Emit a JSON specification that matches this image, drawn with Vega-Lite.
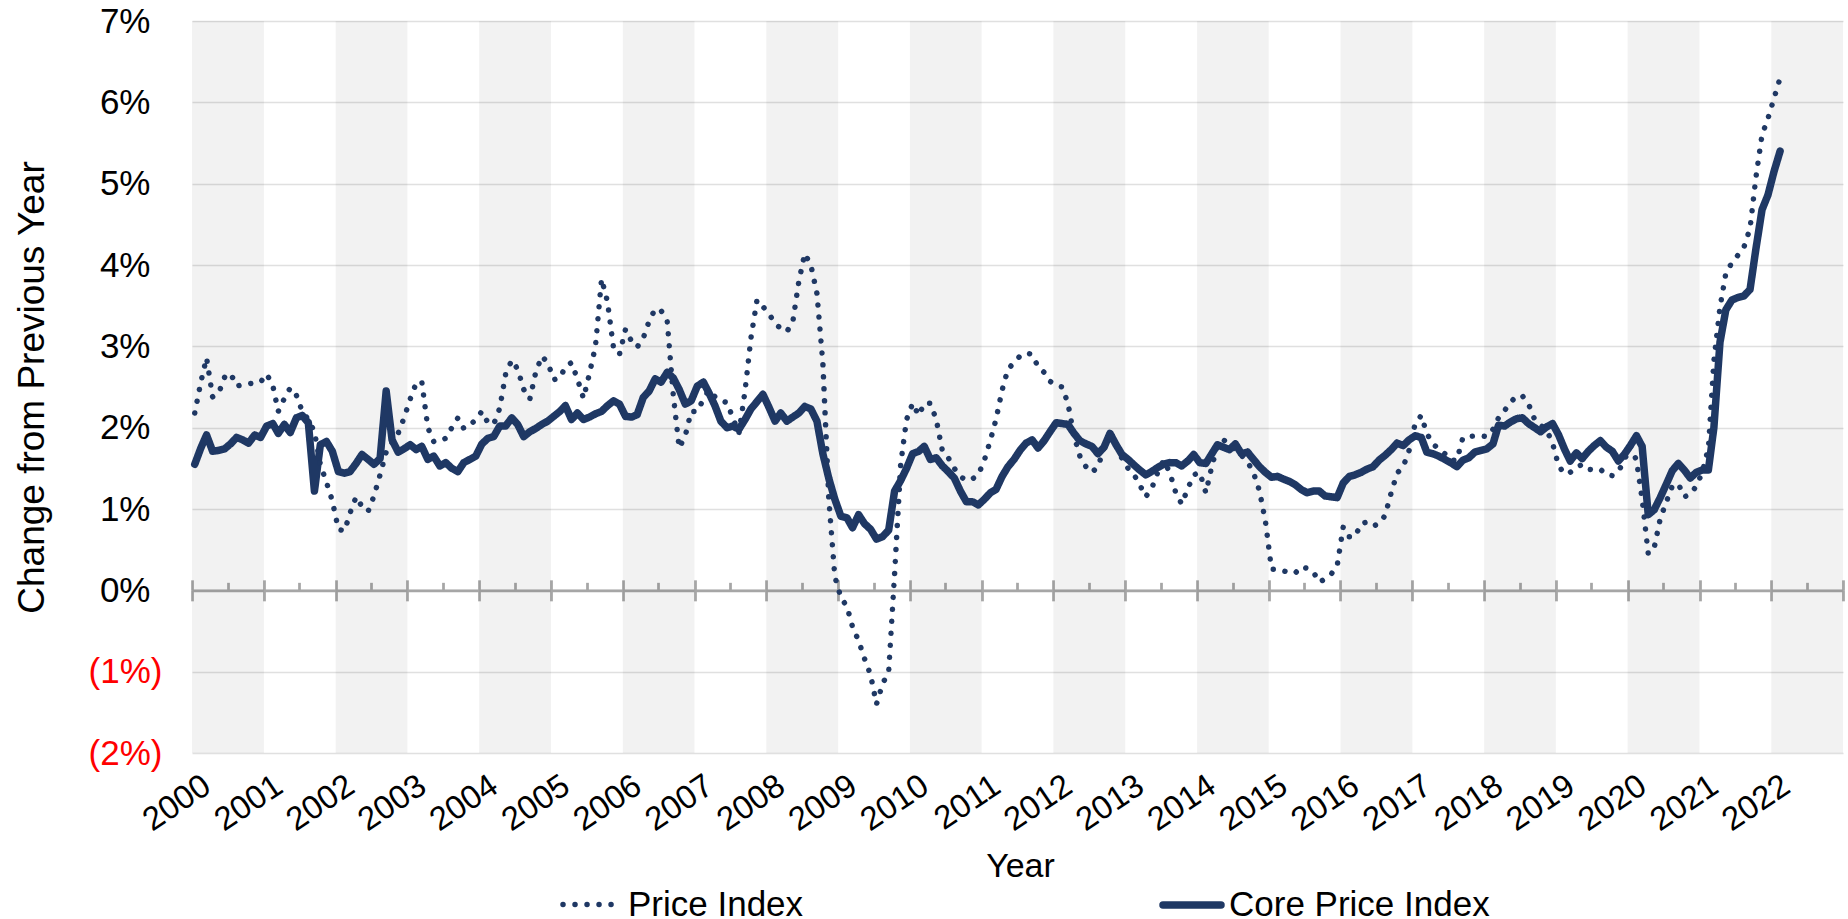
{
  "$schema": "https://vega.github.io/schema/vega-lite/v6.json",
  "width": 1651,
  "height": 732,
  "autosize": {"type": "none"},
  "padding": {"left": 192, "top": 21, "right": 5, "bottom": 166},
  "background": "white",
  "config": {"view": {"stroke": null}, "font": "Liberation Sans"},
  "datasets": {
    "bands": [
      {"s": "2000-01-01", "e": "2001-01-01"}, {"s": "2002-01-01", "e": "2003-01-01"},
      {"s": "2004-01-01", "e": "2005-01-01"}, {"s": "2006-01-01", "e": "2007-01-01"},
      {"s": "2008-01-01", "e": "2009-01-01"}, {"s": "2010-01-01", "e": "2011-01-01"},
      {"s": "2012-01-01", "e": "2013-01-01"}, {"s": "2014-01-01", "e": "2015-01-01"},
      {"s": "2016-01-01", "e": "2017-01-01"}, {"s": "2018-01-01", "e": "2019-01-01"},
      {"s": "2020-01-01", "e": "2021-01-01"}, {"s": "2022-01-01", "e": "2023-01-01"}
    ],
    "pce": [
      {"d":"2000-01-15","Price Index":2.18,"Core Price Index":1.55},{"d":"2000-02-15","Price Index":2.56,"Core Price Index":1.75},{"d":"2000-03-15","Price Index":2.86,"Core Price Index":1.91},{"d":"2000-04-15","Price Index":2.38,"Core Price Index":1.71},{"d":"2000-05-15","Price Index":2.42,"Core Price Index":1.72},{"d":"2000-06-15","Price Index":2.62,"Core Price Index":1.74},{"d":"2000-07-15","Price Index":2.67,"Core Price Index":1.80},{"d":"2000-08-15","Price Index":2.51,"Core Price Index":1.88},{"d":"2000-09-15","Price Index":2.53,"Core Price Index":1.85},{"d":"2000-10-15","Price Index":2.54,"Core Price Index":1.81},{"d":"2000-11-15","Price Index":2.55,"Core Price Index":1.91},{"d":"2000-12-15","Price Index":2.56,"Core Price Index":1.88},
      {"d":"2001-01-15","Price Index":2.66,"Core Price Index":2.02},{"d":"2001-02-15","Price Index":2.52,"Core Price Index":2.05},{"d":"2001-03-15","Price Index":2.20,"Core Price Index":1.93},{"d":"2001-04-15","Price Index":2.36,"Core Price Index":2.04},{"d":"2001-05-15","Price Index":2.49,"Core Price Index":1.94},{"d":"2001-06-15","Price Index":2.40,"Core Price Index":2.12},{"d":"2001-07-15","Price Index":2.20,"Core Price Index":2.15},{"d":"2001-08-15","Price Index":2.10,"Core Price Index":2.06},{"d":"2001-09-15","Price Index":1.95,"Core Price Index":1.22},{"d":"2001-10-15","Price Index":1.55,"Core Price Index":1.79},{"d":"2001-11-15","Price Index":1.33,"Core Price Index":1.83},{"d":"2001-12-15","Price Index":1.10,"Core Price Index":1.71},
      {"d":"2002-01-15","Price Index":0.75,"Core Price Index":1.46},{"d":"2002-02-15","Price Index":0.73,"Core Price Index":1.44},{"d":"2002-03-15","Price Index":0.95,"Core Price Index":1.46},{"d":"2002-04-15","Price Index":1.15,"Core Price Index":1.56},{"d":"2002-05-15","Price Index":1.03,"Core Price Index":1.67},{"d":"2002-06-15","Price Index":0.97,"Core Price Index":1.61},{"d":"2002-07-15","Price Index":1.16,"Core Price Index":1.55},{"d":"2002-08-15","Price Index":1.42,"Core Price Index":1.62},{"d":"2002-09-15","Price Index":1.70,"Core Price Index":2.45},{"d":"2002-10-15","Price Index":1.82,"Core Price Index":1.85},{"d":"2002-11-15","Price Index":1.93,"Core Price Index":1.70},{"d":"2002-12-15","Price Index":2.12,"Core Price Index":1.74},
      {"d":"2003-01-15","Price Index":2.35,"Core Price Index":1.79},{"d":"2003-02-15","Price Index":2.55,"Core Price Index":1.73},{"d":"2003-03-15","Price Index":2.57,"Core Price Index":1.77},{"d":"2003-04-15","Price Index":2.00,"Core Price Index":1.61},{"d":"2003-05-15","Price Index":1.83,"Core Price Index":1.65},{"d":"2003-06-15","Price Index":1.83,"Core Price Index":1.53},{"d":"2003-07-15","Price Index":1.87,"Core Price Index":1.57},{"d":"2003-08-15","Price Index":2.00,"Core Price Index":1.50},{"d":"2003-09-15","Price Index":2.12,"Core Price Index":1.46},{"d":"2003-10-15","Price Index":1.99,"Core Price Index":1.57},{"d":"2003-11-15","Price Index":2.03,"Core Price Index":1.61},{"d":"2003-12-15","Price Index":2.10,"Core Price Index":1.65},
      {"d":"2004-01-15","Price Index":2.20,"Core Price Index":1.80},{"d":"2004-02-15","Price Index":2.06,"Core Price Index":1.87},{"d":"2004-03-15","Price Index":2.04,"Core Price Index":1.89},{"d":"2004-04-15","Price Index":2.24,"Core Price Index":2.02},{"d":"2004-05-15","Price Index":2.66,"Core Price Index":2.02},{"d":"2004-06-15","Price Index":2.83,"Core Price Index":2.12},{"d":"2004-07-15","Price Index":2.72,"Core Price Index":2.04},{"d":"2004-08-15","Price Index":2.47,"Core Price Index":1.89},{"d":"2004-09-15","Price Index":2.35,"Core Price Index":1.95},{"d":"2004-10-15","Price Index":2.68,"Core Price Index":1.99},{"d":"2004-11-15","Price Index":2.88,"Core Price Index":2.04},{"d":"2004-12-15","Price Index":2.80,"Core Price Index":2.08},
      {"d":"2005-01-15","Price Index":2.59,"Core Price Index":2.14},{"d":"2005-02-15","Price Index":2.61,"Core Price Index":2.20},{"d":"2005-03-15","Price Index":2.75,"Core Price Index":2.27},{"d":"2005-04-15","Price Index":2.80,"Core Price Index":2.10},{"d":"2005-05-15","Price Index":2.60,"Core Price Index":2.18},{"d":"2005-06-15","Price Index":2.36,"Core Price Index":2.10},{"d":"2005-07-15","Price Index":2.66,"Core Price Index":2.13},{"d":"2005-08-15","Price Index":3.00,"Core Price Index":2.17},{"d":"2005-09-15","Price Index":3.83,"Core Price Index":2.20},{"d":"2005-10-15","Price Index":3.55,"Core Price Index":2.27},{"d":"2005-11-15","Price Index":2.98,"Core Price Index":2.33},{"d":"2005-12-15","Price Index":2.90,"Core Price Index":2.29},
      {"d":"2006-01-15","Price Index":3.21,"Core Price Index":2.14},{"d":"2006-02-15","Price Index":3.06,"Core Price Index":2.13},{"d":"2006-03-15","Price Index":2.99,"Core Price Index":2.16},{"d":"2006-04-15","Price Index":3.10,"Core Price Index":2.37},{"d":"2006-05-15","Price Index":3.31,"Core Price Index":2.45},{"d":"2006-06-15","Price Index":3.46,"Core Price Index":2.60},{"d":"2006-07-15","Price Index":3.44,"Core Price Index":2.56},{"d":"2006-08-15","Price Index":3.31,"Core Price Index":2.68},{"d":"2006-09-15","Price Index":2.40,"Core Price Index":2.61},{"d":"2006-10-15","Price Index":1.75,"Core Price Index":2.47},{"d":"2006-11-15","Price Index":1.90,"Core Price Index":2.29},{"d":"2006-12-15","Price Index":2.20,"Core Price Index":2.33},
      {"d":"2007-01-15","Price Index":2.20,"Core Price Index":2.51},{"d":"2007-02-15","Price Index":2.35,"Core Price Index":2.56},{"d":"2007-03-15","Price Index":2.46,"Core Price Index":2.43},{"d":"2007-04-15","Price Index":2.38,"Core Price Index":2.27},{"d":"2007-05-15","Price Index":2.33,"Core Price Index":2.08},{"d":"2007-06-15","Price Index":2.31,"Core Price Index":2.00},{"d":"2007-07-15","Price Index":2.12,"Core Price Index":2.02},{"d":"2007-08-15","Price Index":1.93,"Core Price Index":1.98},{"d":"2007-09-15","Price Index":2.45,"Core Price Index":2.10},{"d":"2007-10-15","Price Index":3.10,"Core Price Index":2.23},{"d":"2007-11-15","Price Index":3.57,"Core Price Index":2.32},{"d":"2007-12-15","Price Index":3.49,"Core Price Index":2.41},
      {"d":"2008-01-15","Price Index":3.40,"Core Price Index":2.25},{"d":"2008-02-15","Price Index":3.28,"Core Price Index":2.08},{"d":"2008-03-15","Price Index":3.22,"Core Price Index":2.18},{"d":"2008-04-15","Price Index":3.18,"Core Price Index":2.08},{"d":"2008-05-15","Price Index":3.30,"Core Price Index":2.13},{"d":"2008-06-15","Price Index":3.80,"Core Price Index":2.18},{"d":"2008-07-15","Price Index":4.14,"Core Price Index":2.26},{"d":"2008-08-15","Price Index":4.00,"Core Price Index":2.23},{"d":"2008-09-15","Price Index":3.65,"Core Price Index":2.08},{"d":"2008-10-15","Price Index":2.80,"Core Price Index":1.68},{"d":"2008-11-15","Price Index":1.10,"Core Price Index":1.37},{"d":"2008-12-15","Price Index":0.17,"Core Price Index":1.12},
      {"d":"2009-01-15","Price Index":-0.09,"Core Price Index":0.91},{"d":"2009-02-15","Price Index":-0.20,"Core Price Index":0.89},{"d":"2009-03-15","Price Index":-0.45,"Core Price Index":0.77},{"d":"2009-04-15","Price Index":-0.62,"Core Price Index":0.93},{"d":"2009-05-15","Price Index":-0.84,"Core Price Index":0.82},{"d":"2009-06-15","Price Index":-1.04,"Core Price Index":0.75},{"d":"2009-07-15","Price Index":-1.40,"Core Price Index":0.63},{"d":"2009-08-15","Price Index":-1.15,"Core Price Index":0.66},{"d":"2009-09-15","Price Index":-1.00,"Core Price Index":0.74},{"d":"2009-10-15","Price Index":0.20,"Core Price Index":1.22},{"d":"2009-11-15","Price Index":1.55,"Core Price Index":1.35},{"d":"2009-12-15","Price Index":2.10,"Core Price Index":1.50},
      {"d":"2010-01-15","Price Index":2.30,"Core Price Index":1.68},{"d":"2010-02-15","Price Index":2.15,"Core Price Index":1.71},{"d":"2010-03-15","Price Index":2.30,"Core Price Index":1.77},{"d":"2010-04-15","Price Index":2.30,"Core Price Index":1.61},{"d":"2010-05-15","Price Index":2.10,"Core Price Index":1.63},{"d":"2010-06-15","Price Index":1.72,"Core Price Index":1.53},{"d":"2010-07-15","Price Index":1.63,"Core Price Index":1.46},{"d":"2010-08-15","Price Index":1.50,"Core Price Index":1.38},{"d":"2010-09-15","Price Index":1.40,"Core Price Index":1.22},{"d":"2010-10-15","Price Index":1.35,"Core Price Index":1.09},{"d":"2010-11-15","Price Index":1.37,"Core Price Index":1.09},{"d":"2010-12-15","Price Index":1.42,"Core Price Index":1.05},
      {"d":"2011-01-15","Price Index":1.60,"Core Price Index":1.12},{"d":"2011-02-15","Price Index":1.85,"Core Price Index":1.20},{"d":"2011-03-15","Price Index":2.10,"Core Price Index":1.24},{"d":"2011-04-15","Price Index":2.46,"Core Price Index":1.40},{"d":"2011-05-15","Price Index":2.72,"Core Price Index":1.52},{"d":"2011-06-15","Price Index":2.80,"Core Price Index":1.61},{"d":"2011-07-15","Price Index":2.88,"Core Price Index":1.72},{"d":"2011-08-15","Price Index":2.92,"Core Price Index":1.81},{"d":"2011-09-15","Price Index":2.90,"Core Price Index":1.85},{"d":"2011-10-15","Price Index":2.75,"Core Price Index":1.75},{"d":"2011-11-15","Price Index":2.68,"Core Price Index":1.84},{"d":"2011-12-15","Price Index":2.57,"Core Price Index":1.95},
      {"d":"2012-01-15","Price Index":2.52,"Core Price Index":2.06},{"d":"2012-02-15","Price Index":2.50,"Core Price Index":2.05},{"d":"2012-03-15","Price Index":2.30,"Core Price Index":2.04},{"d":"2012-04-15","Price Index":1.90,"Core Price Index":1.93},{"d":"2012-05-15","Price Index":1.65,"Core Price Index":1.84},{"d":"2012-06-15","Price Index":1.52,"Core Price Index":1.80},{"d":"2012-07-15","Price Index":1.45,"Core Price Index":1.77},{"d":"2012-08-15","Price Index":1.52,"Core Price Index":1.68},{"d":"2012-09-15","Price Index":1.75,"Core Price Index":1.76},{"d":"2012-10-15","Price Index":1.96,"Core Price Index":1.93},{"d":"2012-11-15","Price Index":1.80,"Core Price Index":1.79},{"d":"2012-12-15","Price Index":1.62,"Core Price Index":1.67},
      {"d":"2013-01-15","Price Index":1.50,"Core Price Index":1.61},{"d":"2013-02-15","Price Index":1.42,"Core Price Index":1.54},{"d":"2013-03-15","Price Index":1.30,"Core Price Index":1.48},{"d":"2013-04-15","Price Index":1.15,"Core Price Index":1.42},{"d":"2013-05-15","Price Index":1.25,"Core Price Index":1.46},{"d":"2013-06-15","Price Index":1.45,"Core Price Index":1.51},{"d":"2013-07-15","Price Index":1.60,"Core Price Index":1.55},{"d":"2013-08-15","Price Index":1.45,"Core Price Index":1.57},{"d":"2013-09-15","Price Index":1.20,"Core Price Index":1.57},{"d":"2013-10-15","Price Index":1.06,"Core Price Index":1.53},{"d":"2013-11-15","Price Index":1.25,"Core Price Index":1.59},{"d":"2013-12-15","Price Index":1.42,"Core Price Index":1.67},
      {"d":"2014-01-15","Price Index":1.45,"Core Price Index":1.57},{"d":"2014-02-15","Price Index":1.20,"Core Price Index":1.56},{"d":"2014-03-15","Price Index":1.50,"Core Price Index":1.67},{"d":"2014-04-15","Price Index":1.78,"Core Price Index":1.79},{"d":"2014-05-15","Price Index":1.85,"Core Price Index":1.76},{"d":"2014-06-15","Price Index":1.80,"Core Price Index":1.73},{"d":"2014-07-15","Price Index":1.72,"Core Price Index":1.80},{"d":"2014-08-15","Price Index":1.66,"Core Price Index":1.68},{"d":"2014-09-15","Price Index":1.58,"Core Price Index":1.70},{"d":"2014-10-15","Price Index":1.45,"Core Price Index":1.61},{"d":"2014-11-15","Price Index":1.22,"Core Price Index":1.52},{"d":"2014-12-15","Price Index":0.85,"Core Price Index":1.45},
      {"d":"2015-01-15","Price Index":0.26,"Core Price Index":1.39},{"d":"2015-02-15","Price Index":0.26,"Core Price Index":1.40},{"d":"2015-03-15","Price Index":0.24,"Core Price Index":1.37},{"d":"2015-04-15","Price Index":0.22,"Core Price Index":1.34},{"d":"2015-05-15","Price Index":0.21,"Core Price Index":1.30},{"d":"2015-06-15","Price Index":0.29,"Core Price Index":1.24},{"d":"2015-07-15","Price Index":0.27,"Core Price Index":1.20},{"d":"2015-08-15","Price Index":0.23,"Core Price Index":1.22},{"d":"2015-09-15","Price Index":0.10,"Core Price Index":1.22},{"d":"2015-10-15","Price Index":0.14,"Core Price Index":1.16},{"d":"2015-11-15","Price Index":0.20,"Core Price Index":1.15},{"d":"2015-12-15","Price Index":0.30,"Core Price Index":1.14},
      {"d":"2016-01-15","Price Index":0.78,"Core Price Index":1.32},{"d":"2016-02-15","Price Index":0.66,"Core Price Index":1.40},{"d":"2016-03-15","Price Index":0.66,"Core Price Index":1.42},{"d":"2016-04-15","Price Index":0.82,"Core Price Index":1.45},{"d":"2016-05-15","Price Index":0.84,"Core Price Index":1.49},{"d":"2016-06-15","Price Index":0.79,"Core Price Index":1.52},{"d":"2016-07-15","Price Index":0.82,"Core Price Index":1.60},{"d":"2016-08-15","Price Index":0.92,"Core Price Index":1.66},{"d":"2016-09-15","Price Index":1.20,"Core Price Index":1.73},{"d":"2016-10-15","Price Index":1.44,"Core Price Index":1.81},{"d":"2016-11-15","Price Index":1.52,"Core Price Index":1.78},{"d":"2016-12-15","Price Index":1.72,"Core Price Index":1.85},
      {"d":"2017-01-15","Price Index":2.05,"Core Price Index":1.90},{"d":"2017-02-15","Price Index":2.15,"Core Price Index":1.88},{"d":"2017-03-15","Price Index":1.93,"Core Price Index":1.70},{"d":"2017-04-15","Price Index":1.80,"Core Price Index":1.68},{"d":"2017-05-15","Price Index":1.74,"Core Price Index":1.65},{"d":"2017-06-15","Price Index":1.68,"Core Price Index":1.61},{"d":"2017-07-15","Price Index":1.60,"Core Price Index":1.57},{"d":"2017-08-15","Price Index":1.60,"Core Price Index":1.52},{"d":"2017-09-15","Price Index":1.88,"Core Price Index":1.60},{"d":"2017-10-15","Price Index":1.89,"Core Price Index":1.63},{"d":"2017-11-15","Price Index":1.90,"Core Price Index":1.70},{"d":"2017-12-15","Price Index":1.90,"Core Price Index":1.72},
      {"d":"2018-01-15","Price Index":1.89,"Core Price Index":1.74},{"d":"2018-02-15","Price Index":1.98,"Core Price Index":1.80},{"d":"2018-03-15","Price Index":2.12,"Core Price Index":2.03},{"d":"2018-04-15","Price Index":2.21,"Core Price Index":2.02},{"d":"2018-05-15","Price Index":2.31,"Core Price Index":2.07},{"d":"2018-06-15","Price Index":2.39,"Core Price Index":2.11},{"d":"2018-07-15","Price Index":2.39,"Core Price Index":2.12},{"d":"2018-08-15","Price Index":2.29,"Core Price Index":2.05},{"d":"2018-09-15","Price Index":2.10,"Core Price Index":2.00},{"d":"2018-10-15","Price Index":2.03,"Core Price Index":1.95},{"d":"2018-11-15","Price Index":1.97,"Core Price Index":2.01},{"d":"2018-12-15","Price Index":1.81,"Core Price Index":2.05},
      {"d":"2019-01-15","Price Index":1.53,"Core Price Index":1.91},{"d":"2019-02-15","Price Index":1.43,"Core Price Index":1.73},{"d":"2019-03-15","Price Index":1.45,"Core Price Index":1.59},{"d":"2019-04-15","Price Index":1.51,"Core Price Index":1.69},{"d":"2019-05-15","Price Index":1.55,"Core Price Index":1.62},{"d":"2019-06-15","Price Index":1.49,"Core Price Index":1.71},{"d":"2019-07-15","Price Index":1.48,"Core Price Index":1.78},{"d":"2019-08-15","Price Index":1.49,"Core Price Index":1.84},{"d":"2019-09-15","Price Index":1.42,"Core Price Index":1.76},{"d":"2019-10-15","Price Index":1.41,"Core Price Index":1.71},{"d":"2019-11-15","Price Index":1.46,"Core Price Index":1.59},{"d":"2019-12-15","Price Index":1.60,"Core Price Index":1.67},
      {"d":"2020-01-15","Price Index":1.77,"Core Price Index":1.78},{"d":"2020-02-15","Price Index":1.60,"Core Price Index":1.90},{"d":"2020-03-15","Price Index":1.12,"Core Price Index":1.77},{"d":"2020-04-15","Price Index":0.45,"Core Price Index":0.93},{"d":"2020-05-15","Price Index":0.52,"Core Price Index":0.99},{"d":"2020-06-15","Price Index":0.88,"Core Price Index":1.14},{"d":"2020-07-15","Price Index":1.08,"Core Price Index":1.30},{"d":"2020-08-15","Price Index":1.28,"Core Price Index":1.47},{"d":"2020-09-15","Price Index":1.31,"Core Price Index":1.56},{"d":"2020-10-15","Price Index":1.15,"Core Price Index":1.48},{"d":"2020-11-15","Price Index":1.18,"Core Price Index":1.38},{"d":"2020-12-15","Price Index":1.28,"Core Price Index":1.45},
      {"d":"2021-01-15","Price Index":1.45,"Core Price Index":1.48},{"d":"2021-02-15","Price Index":1.75,"Core Price Index":1.48},{"d":"2021-03-15","Price Index":2.82,"Core Price Index":2.00},{"d":"2021-04-15","Price Index":3.48,"Core Price Index":3.05},{"d":"2021-05-15","Price Index":3.90,"Core Price Index":3.45},{"d":"2021-06-15","Price Index":4.03,"Core Price Index":3.57},{"d":"2021-07-15","Price Index":4.12,"Core Price Index":3.60},{"d":"2021-08-15","Price Index":4.22,"Core Price Index":3.62},{"d":"2021-09-15","Price Index":4.45,"Core Price Index":3.70},{"d":"2021-10-15","Price Index":5.08,"Core Price Index":4.20},{"d":"2021-11-15","Price Index":5.60,"Core Price Index":4.68},{"d":"2021-12-15","Price Index":5.80,"Core Price Index":4.86},
      {"d":"2022-01-15","Price Index":6.05,"Core Price Index":5.15},{"d":"2022-02-15","Price Index":6.30,"Core Price Index":5.40}
    ]
  },
  "layer": [
    {
      "data": {"name": "bands"},
      "mark": {"type": "rect", "fill": "#000000", "opacity": 0.05},
      "encoding": {
        "x": {
          "field": "s", "type": "temporal",
          "scale": {"type": "utc", "domain": [{"year": 2000, "month": 1, "date": 1, "utc": true}, {"year": 2023, "month": 1, "date": 1, "utc": true}]},
          "axis": {
            "orient": "bottom", "domain": false, "ticks": false, "grid": false,
            "tickCount": {"interval": "year", "step": 1},
            "labelExpr": "utcyear(datum.value) > 2022 ? '' : utcFormat(datum.value, '%Y')",
            "labelAngle": -34, "labelAlign": "right", "labelBaseline": "top",
            "labelPadding": 16, "labelOffset": 6, "labelFontSize": 33, "labelColor": "#000000",
            "labelFont": "Liberation Sans",
            "labelOverlap": false, "labelFlush": false, "labelBound": false,
            "title": "Year", "titleFontSize": 34, "titleFontWeight": "normal", "titleColor": "#000000",
            "titleFont": "Liberation Sans",
            "titleX": 828, "titleY": 123, "titleAlign": "center", "titleBaseline": "alphabetic"
          }
        },
        "x2": {"field": "e"}
      }
    },
    {
      "data": {"name": "pce"},
      "transform": [{"fold": ["Core Price Index"], "as": ["series", "value"]}],
      "mark": {"type": "line", "strokeCap": "round", "strokeJoin": "round"},
      "encoding": {
        "x": {
          "field": "d", "type": "temporal",
          "scale": {"type": "utc", "domain": [{"year": 2000, "month": 1, "date": 1, "utc": true}, {"year": 2023, "month": 1, "date": 1, "utc": true}]},
          "axis": {
            "orient": "bottom", "offset": -162.67, "labels": false, "grid": false, "title": null,
            "domain": true, "domainColor": "#a6a6a6", "domainWidth": 2.75,
            "ticks": true, "tickColor": "#a6a6a6", "tickWidth": 2.75,
            "tickCount": {"interval": "month", "step": 6},
            "tickSize": {"condition": {"test": "utcmonth(datum.value) === 0", "value": -10.5}, "value": -8}
          }
        },
        "y": {
          "field": "value", "type": "quantitative",
          "scale": {"domain": [-2, 7], "nice": false, "zero": false},
          "axis": {
            "orient": "left", "values": [-2, -1, 0, 1, 2, 3, 4, 5, 6, 7],
            "domain": false, "ticks": false, "grid": true, "gridColor": "#e0e0e0", "gridWidth": 1.5,
            "labelExpr": "datum.value < 0 ? '(' + abs(datum.value) + '%)' : datum.value + '%'",
            "labelColor": {"condition": {"test": "datum.value < 0", "value": "#ff0000"}, "value": "#000000"},
            "labelPadding": {"condition": {"test": "datum.value < 0", "value": 30}, "value": 42},
            "labelFontSize": 35, "labelFont": "Liberation Sans", "labelBaseline": "middle",
            "title": "Change from Previous Year", "titleFontSize": 37, "titleFontWeight": "normal",
            "titleColor": "#000000", "titleFont": "Liberation Sans",
            "titleX": -149, "titleY": 366, "titleAngle": -90, "titleAlign": "center", "titleBaseline": "alphabetic"
          }
        },
        "color": {
          "field": "series", "type": "nominal",
          "scale": {"domain": ["Price Index", "Core Price Index"], "range": ["#1f3864", "#1f3864"]},
          "legend": {
            "orient": "none", "legendX": 368, "legendY": 851, "direction": "horizontal", "title": null,
            "symbolType": "stroke", "symbolSize": 3364, "labelFontSize": 35, "labelFont": "Liberation Sans",
            "labelColor": "#000000", "labelOffset": 4, "labelLimit": 500, "columnPadding": 344, "padding": 0,
            "encode": {"symbols": {"update": {"strokeCap": {"value": "round"}}}}
          }
        },
        "strokeDash": {
          "field": "series", "type": "nominal",
          "scale": {"domain": ["Price Index", "Core Price Index"], "range": [[0.01, 12], [1, 0]]}
        },
        "strokeWidth": {
          "field": "series", "type": "nominal",
          "scale": {"type": "ordinal", "domain": ["Price Index", "Core Price Index"], "range": [5.5, 7.5]}
        }
      }
    },
    {
      "data": {"name": "pce"},
      "transform": [{"fold": ["Price Index"], "as": ["series", "value"]}],
      "mark": {"type": "line", "strokeCap": "round", "strokeJoin": "round"},
      "encoding": {
        "x": {
          "field": "d", "type": "temporal",
          "scale": {"type": "utc", "domain": [{"year": 2000, "month": 1, "date": 1, "utc": true}, {"year": 2023, "month": 1, "date": 1, "utc": true}]},
          "axis": {
            "orient": "bottom", "offset": -162.67, "labels": false, "grid": false, "title": null,
            "domain": false, "ticks": true, "tickColor": "#a6a6a6", "tickWidth": 2.75,
            "tickCount": {"interval": "year", "step": 1}, "tickSize": 10.5
          }
        },
        "y": {
          "field": "value", "type": "quantitative",
          "scale": {"domain": [-2, 7], "nice": false, "zero": false},
          "axis": {
            "orient": "left", "values": [-2, -1, 0, 1, 2, 3, 4, 5, 6, 7],
            "domain": false, "ticks": false, "grid": true, "gridColor": "#e0e0e0", "gridWidth": 1.5,
            "labelExpr": "datum.value < 0 ? '(' + abs(datum.value) + '%)' : datum.value + '%'",
            "labelColor": {"condition": {"test": "datum.value < 0", "value": "#ff0000"}, "value": "#000000"},
            "labelPadding": {"condition": {"test": "datum.value < 0", "value": 30}, "value": 42},
            "labelFontSize": 35, "labelFont": "Liberation Sans", "labelBaseline": "middle",
            "title": "Change from Previous Year", "titleFontSize": 37, "titleFontWeight": "normal",
            "titleColor": "#000000", "titleFont": "Liberation Sans",
            "titleX": -149, "titleY": 366, "titleAngle": -90, "titleAlign": "center", "titleBaseline": "alphabetic"
          }
        },
        "color": {
          "field": "series", "type": "nominal",
          "scale": {"domain": ["Price Index", "Core Price Index"], "range": ["#1f3864", "#1f3864"]},
          "legend": {
            "orient": "none", "legendX": 368, "legendY": 851, "direction": "horizontal", "title": null,
            "symbolType": "stroke", "symbolSize": 3364, "labelFontSize": 35, "labelFont": "Liberation Sans",
            "labelColor": "#000000", "labelOffset": 4, "labelLimit": 500, "columnPadding": 344, "padding": 0,
            "encode": {"symbols": {"update": {"strokeCap": {"value": "round"}}}}
          }
        },
        "strokeDash": {
          "field": "series", "type": "nominal",
          "scale": {"domain": ["Price Index", "Core Price Index"], "range": [[0.01, 12], [1, 0]]}
        },
        "strokeWidth": {
          "field": "series", "type": "nominal",
          "scale": {"type": "ordinal", "domain": ["Price Index", "Core Price Index"], "range": [5.5, 7.5]}
        }
      }
    }
  ],
  "resolve": {"axis": {"x": "independent"}}
}
